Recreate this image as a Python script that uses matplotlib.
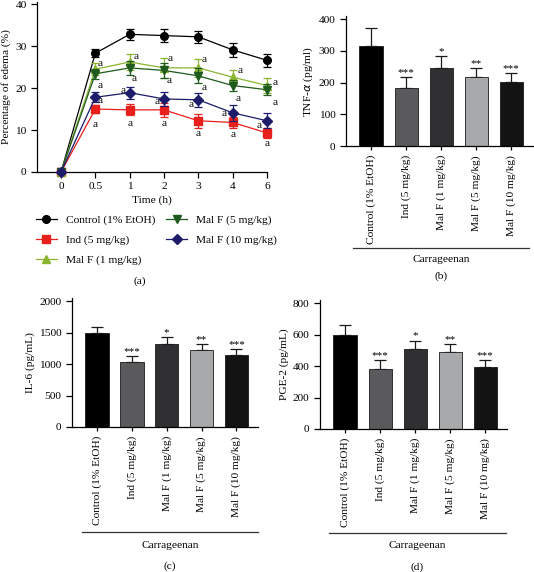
import numpy as np
import matplotlib
matplotlib.use('Agg')
import matplotlib.pyplot as plt
from matplotlib.lines import Line2D

plt.rcParams['font.family'] = ['Liberation Serif', 'DejaVu Serif']
plt.rcParams['font.size'] = 8.2
plt.rcParams['axes.linewidth'] = 0.9

# (a) paw edema time course
times = ['0', '0.5', '1', '2', '3', '4', '6']
edema_names = ['Control (1% EtOH)', 'Ind (5 mg/kg)', 'Mal F (1 mg/kg)', 'Mal F (5 mg/kg)', 'Mal F (10 mg/kg)']
control = [0, 28.3, 32.8, 32.5, 32.2, 29.1, 26.6]
control_err = [0, 1.0, 1.3, 1.5, 1.5, 1.6, 1.5]
ind = [0, 15.0, 14.8, 14.8, 12.2, 11.8, 9.3]
ind_err = [0, 1.0, 1.3, 1.7, 1.7, 1.3, 1.2]
malf1 = [0, 24.5, 26.2, 24.8, 24.8, 22.6, 20.6]
malf1_err = [0, 1.5, 2.0, 2.3, 2.2, 1.6, 1.7]
malf5 = [0, 23.4, 24.8, 24.2, 22.9, 20.6, 19.6]
malf5_err = [0, 1.2, 1.6, 1.8, 1.8, 1.4, 1.3]
malf10 = [0, 17.8, 18.9, 17.4, 17.2, 14.1, 12.2]
malf10_err = [0, 1.2, 1.4, 1.6, 1.6, 1.9, 1.8]

# (b)-(d) cytokines
groups = ['Control (1% EtOH)', 'Ind (5 mg/kg)', 'Mal F (1 mg/kg)', 'Mal F (5 mg/kg)', 'Mal F (10 mg/kg)']
tnf = [316, 182, 246, 218, 202]
tnf_err = [55, 35, 37, 29, 29]
il6 = [1500, 1027, 1319, 1223, 1138]
il6_err = [90, 95, 117, 96, 96]
pge2 = [600, 383, 511, 489, 391]
pge2_err = [62, 57, 51, 49, 49]
stars = ['', '***', '*', '**', '***']

line_styles = [('black', 'o', 5.5), ('#e8201c', 's', 6), ('#8cb431', '^', 6),
               ('#1f5a1f', 'v', 6), ('#1c1c6b', 'D', 4.8)]
bar_colors = ['#000000', '#5a5a5c', '#303033', '#a7a9ab', '#131313']

# pixel offsets of the "a" letters for each treated series
a_offsets = {
    1: [None, (0, -15), (0, -14), (0, -14), (0, -13), (0, -12), (0, -11)],
    2: [None, (5, 6), (6, 6), (6, 9), (6, 8), (7, 7), (8, 3)],
    3: [None, (5, -12), (4, -11), (5, -10), (6, -12), (5, -13), (8, -13)],
    4: [None, (5, -3), (-7, 2), (-7, -3), (-7, -5), (-9, -1), (-8, -5)],
}

W, H = 534, 572
fig = plt.figure(figsize=(W / 100, H / 100), dpi=100)


def ax_rect(left, right, bottom, top):
    return [left / W, 1 - bottom / H, (right - left) / W, (bottom - top) / H]


# ---- panel (a)
ax = fig.add_axes(ax_rect(37, 267, 172, 2))
x = np.arange(len(times))
series = [(control, control_err), (ind, ind_err), (malf1, malf1_err),
          (malf5, malf5_err), (malf10, malf10_err)]
handles = []
for i, (vals, errs) in enumerate(series):
    c, m, ms = line_styles[i]
    ax.errorbar(x, vals, yerr=errs, color=c, marker=m, markersize=ms, lw=0.9,
                elinewidth=0.9, capsize=3, capthick=0.9,
                clip_on=False, zorder=3 + i)
    handles.append(Line2D([], [], color=c, marker=m, markersize=ms, lw=0.9,
                          label=edema_names[i]))
    if i in a_offsets:
        for j, off in enumerate(a_offsets[i]):
            if off is None:
                continue
            ax.annotate('a', (x[j], vals[j]), xytext=(off[0], off[1]),
                        textcoords='offset pixels', ha='center', va='center',
                        fontsize=8.2, annotation_clip=False)
ax.set_xlim(-0.7, 6)
ax.set_ylim(0, 40.5)
ax.set_yticks([0, 10, 20, 30, 40])
ax.set_xticks(x)
ax.set_xticklabels(times)
ax.spines['top'].set_visible(False)
ax.spines['right'].set_visible(False)
ax.tick_params(direction='out', length=4, width=0.9, labelsize=8.2)
ax.set_xlabel('Time (h)', fontsize=8.2, labelpad=3)
ax.set_ylabel('Percentage of edema (%)', fontsize=8.2, labelpad=3)
fig.legend(handles=handles, loc='upper left', bbox_to_anchor=(36 / W, 1 - 215 / H),
           ncol=2, frameon=False, fontsize=8.2, handlelength=1.8,
           handletextpad=0.8, labelspacing=0.85, columnspacing=1.0,
           borderpad=0, borderaxespad=0)
fig.text(140 / W, 1 - 281 / H, '(a)', ha='center', va='center', fontsize=8.2)


def bar_panel(rect, vals, errs, ylim, yticks, ylabel, line_px, carr_y, lab_y, lab, xc):
    axb = fig.add_axes(rect)
    xb = np.arange(len(groups))
    axb.bar(xb, vals, width=0.67, color=bar_colors, edgecolor='#1a1a1a', lw=0.6, zorder=2)
    axb.errorbar(xb, vals, yerr=[np.zeros(len(vals)), errs], fmt='none',
                 ecolor='#1a1a1a', elinewidth=0.9, capsize=4, capthick=0.9, zorder=1)
    for k in range(len(groups)):
        if stars[k]:
            axb.text(xb[k], vals[k] + errs[k], stars[k], ha='center', va='bottom',
                     fontsize=8)
    axb.set_xlim(-0.72, 4.62)
    axb.set_ylim(*ylim)
    axb.set_yticks(yticks)
    axb.set_xticks(xb)
    axb.set_xticklabels(groups, rotation=90, fontsize=8.2)
    axb.spines['top'].set_visible(False)
    axb.spines['right'].set_visible(False)
    axb.tick_params(axis='y', direction='out', length=4, width=0.9, labelsize=8.2)
    axb.tick_params(axis='x', direction='out', length=3, width=0.9)
    axb.set_ylabel(ylabel, fontsize=8.2, labelpad=3)
    fig.add_artist(Line2D([line_px[0] / W, line_px[1] / W],
                          [1 - line_px[2] / H, 1 - line_px[2] / H],
                          color='#333333', lw=0.9))
    fig.text(xc / W, 1 - carr_y / H, 'Carrageenan', ha='center', va='center', fontsize=8.2)
    fig.text(xc / W, 1 - lab_y / H, lab, ha='center', va='center', fontsize=8.2)
    return axb


bar_panel(ax_rect(346, 533, 146, 16), tnf, tnf_err, (0, 410), [0, 100, 200, 300, 400],
          r'TNF-$\alpha$ (pg/ml)', (353, 529, 248), 260, 276, '(b)', 441)
bar_panel(ax_rect(72, 258, 427, 298), il6, il6_err, (0, 2050), [0, 500, 1000, 1500, 2000],
          'IL-6 (pg/mL)', (82, 258, 532), 546, 566, '(c)', 170)
bar_panel(ax_rect(320, 507, 429, 300), pge2, pge2_err, (0, 820), [0, 200, 400, 600, 800],
          'PGE-2 (pg/mL)', (329, 506, 533), 546, 567, '(d)', 417)

fig.savefig('out.png', dpi=100)
